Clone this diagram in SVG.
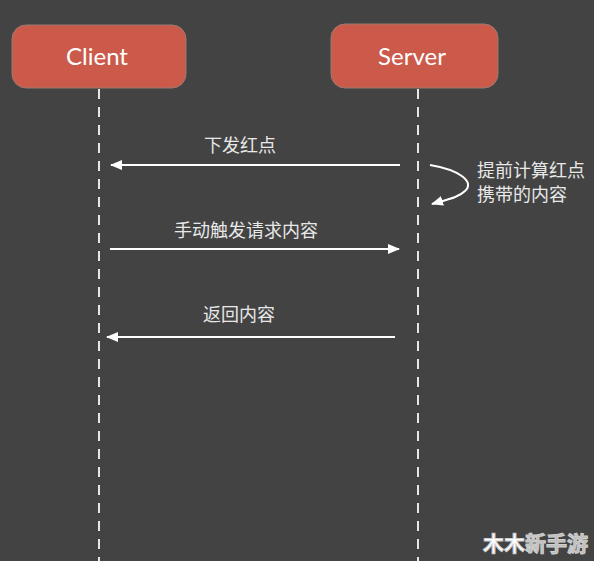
<svg xmlns="http://www.w3.org/2000/svg" width="594" height="561" viewBox="0 0 594 561">
<style>
.box{fill:#cc5a4a;stroke:#9a7a72;stroke-width:1}
.title{font-family:Lato,"Open Sans",sans-serif;font-size:24px;fill:#ffffff;text-anchor:middle}
.life{stroke:#e6e6e6;stroke-width:2;stroke-dasharray:10 8;fill:none}
.msg{stroke:#ffffff;stroke-width:2;fill:none}
.lbl{font-family:"Noto Sans CJK SC","Noto Sans",sans-serif;font-size:18px;fill:#e8e8e8}
</style>
<defs>
<marker id="ah" viewBox="0 0 12 10" refX="11" refY="5" markerWidth="12" markerHeight="10" markerUnits="userSpaceOnUse" orient="auto">
<path d="M0,0 L12,5 L0,10 Z" fill="#ffffff"/>
</marker>
</defs>
<rect width="594" height="561" fill="#434343"/>
<g id="connectors">
<line class="life" x1="99" y1="89" x2="99" y2="561"/>
<line class="life" x1="418" y1="89" x2="418" y2="561"/>
<line class="msg" x1="400" y1="165" x2="111" y2="165" marker-end="url(#ah)"/>
<line class="msg" x1="110" y1="249" x2="399" y2="249" marker-end="url(#ah)"/>
<line class="msg" x1="395" y1="337" x2="107" y2="337" marker-end="url(#ah)"/>
<path class="msg" d="M430,165 C460,170 475,182 465,191 C458,198 445,200 432,204" marker-end="url(#ah)"/>
</g>
<g id="client">
<rect class="box" x="12" y="25" width="174" height="63" rx="14"/>
<text class="title" x="97" y="65">Client</text>
</g>
<g id="server">
<rect class="box" x="331" y="24" width="167" height="64" rx="14"/>
<text class="title" x="412" y="65">Server</text>
</g>
<g id="labels">
<text class="lbl" x="240" y="152" text-anchor="middle">下发红点</text>
<text class="lbl" x="246" y="237" text-anchor="middle">手动触发请求内容</text>
<text class="lbl" x="239" y="321" text-anchor="middle">返回内容</text>
<text class="lbl" x="477" y="177">提前计算红点</text>
<text class="lbl" x="477" y="201">携带的内容</text>
</g>
<g id="watermark" font-family="'Noto Sans CJK SC',sans-serif" font-weight="bold" font-size="21" stroke="#cfcfcf" stroke-width="1">
<text x="483" y="551" fill="#ffffff">木木<tspan fill="#bdbdbd">新手游</tspan></text>
</g>
</svg>
